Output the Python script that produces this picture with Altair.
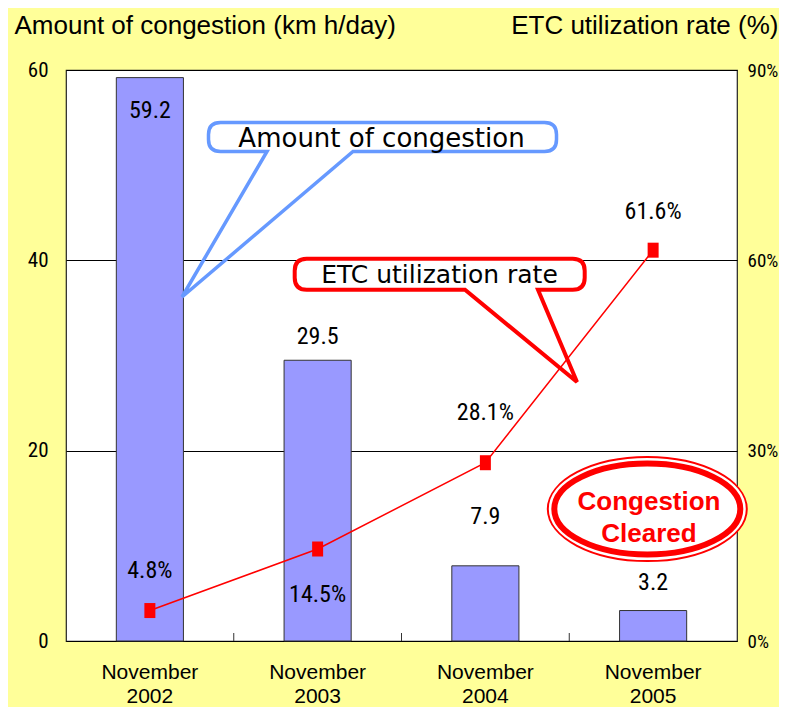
import altair as alt
import pandas as pd

# ---------------- data ----------------
periods = ["November 2002", "November 2003", "November 2004", "November 2005"]
congestion = [59.2, 29.5, 7.9, 3.2]          # km h/day (left axis)
etc_rate = [4.8, 14.5, 28.1, 61.6]           # % (right axis)
congestion_labels = ["59.2", "29.5", "7.9", "3.2"]
etc_labels = ["4.8%", "14.5%", "28.1%", "61.6%"]
left_ticks = [0, 20, 40, 60]
right_ticks = [0, 30, 60, 90]

# ---------------- layout / style ----------------
W, H = 671, 571
LEFT_MAX, RIGHT_MAX = 60, 90
bar_label_dy = [33, -23, -49, -27.5]      # pixel offsets of value labels
etc_label_dy = [-39.5, 46, -50, -38]
NARROW = "Roboto Condensed, Liberation Sans, Arial, sans-serif"
SANS = "Liberation Sans, Arial, sans-serif"
BUBBLE = "DejaVu Sans, Liberation Sans"
BLUE = "#6699FF"
RED = "#FF0000"

df = pd.DataFrame({
    "period": periods,
    "congestion": congestion,
    "etc": etc_rate,
    "clab": congestion_labels,
    "elab": etc_labels,
    "cdy": bar_label_dy,
    "edy": etc_label_dy,
})

base = alt.Chart(df)

x_enc = alt.X(
    "period:N", sort=periods,
    scale=alt.Scale(paddingInner=0.6, paddingOuter=0.3),
    axis=alt.Axis(title=None, labelExpr="split(datum.label, ' ')", labelAngle=0,
                  domain=False, ticks=False, labelFont=SANS, labelFontSize=21,
                  labelColor="black", labelPadding=20, labelLineHeight=24,
                  labelBaseline="top"),
)

left_scale = alt.Scale(domain=[0, LEFT_MAX], nice=False)
right_scale = alt.Scale(domain=[0, RIGHT_MAX], nice=False)

left_axis = alt.Axis(values=left_ticks, title="Amount of congestion (km h/day)",
                     titleAngle=0, titleX=-52, titleY=-37, titleAlign="left",
                     titleBaseline="alphabetic", titleFont=SANS, titleFontSize=26,
                     titleFontWeight="normal", titleColor="black",
                     grid=True, gridColor="black", gridWidth=1, gridOpacity=1,
                     domain=False, ticks=False, labelFont=NARROW, labelFontSize=21,
                     labelPadding=18, labelColor="black")
right_axis = alt.Axis(orient="right", values=right_ticks, labelExpr="datum.value + '%'",
                      title="ETC utilization rate (%)", titleAngle=0, titleX=41, titleY=-37,
                      titleAlign="right", titleBaseline="alphabetic", titleFont=SANS,
                      titleFontSize=26, titleFontWeight="normal", titleColor="black",
                      grid=False, domain=False, ticks=False, labelFont=NARROW,
                      labelFontSize=19, labelPadding=10, labelColor="black")

y_left = alt.Y("congestion:Q", scale=left_scale, axis=left_axis)
y_right = alt.Y("etc:Q", scale=right_scale, axis=right_axis)

# ---------------- bar group ----------------
bars = base.mark_bar(color="#9999FF", stroke="#333333", strokeWidth=1).encode(x=x_enc, y=y_left)

bar_text = base.transform_calculate(
    ly=f"datum.congestion - datum.cdy * {LEFT_MAX} / {H}"
).mark_text(font=NARROW, fontSize=24, color="black", baseline="middle").encode(
    x=x_enc, y=alt.Y("ly:Q", scale=left_scale, axis=left_axis), text="clab:N"
)

ticks_inner = base.transform_filter(
    alt.FieldOneOfPredicate(field="period", oneOf=periods[:3])
).mark_rule(color="#333333", strokeWidth=1, xOffset=W / 8).encode(
    x=x_enc, y=alt.value(H - 8), y2=alt.value(H)
)

bar_group = alt.layer(bars, bar_text, ticks_inner)

# ---------------- line group ----------------
rect_marker = "M -5.5 -7.5 H 5.5 V 7.5 H -5.5 Z"
line = base.mark_line(color=RED, strokeWidth=1.5).encode(x=x_enc, y=y_right)
pts = base.mark_point(shape=rect_marker, size=4, filled=True, color=RED, opacity=1,
                      strokeWidth=0).encode(x=x_enc, y=y_right)
line_text = base.transform_calculate(
    ly=f"datum.etc - datum.edy * {RIGHT_MAX} / {H}"
).mark_text(font=NARROW, fontSize=24, color="black", baseline="middle").encode(
    x=x_enc, y=alt.Y("ly:Q", scale=right_scale, axis=right_axis), text="elab:N"
)
line_group = alt.layer(line, pts, line_text)

# ---------------- annotations ----------------
one = alt.Chart(pd.DataFrame({"a": [0]}))

blue_bubble_path = (
    "M -162 -14.5 L 162 -14.5 Q 174 -14.5 174 -2.5 L 174 2.5 Q 174 14.5 162 14.5 "
    "L -29.5 14.5 L -200.5 160 L -115.5 14.5 L -162 14.5 Q -174 14.5 -174 2.5 "
    "L -174 -2.5 Q -174 -14.5 -162 -14.5 Z"
)
red_bubble_path = (
    "M -133 -15.5 L 133 -15.5 Q 145 -15.5 145 -3.5 L 145 3.5 Q 145 15.5 133 15.5 "
    "L 98.3 15.5 L 137.3 107.8 L 25.3 15.5 L -133 15.5 Q -145 15.5 -145 3.5 "
    "L -145 -3.5 Q -145 -15.5 -133 -15.5 Z"
)
ell_outer = "M -99.5 0 A 99.5 52 0 1 0 99.5 0 A 99.5 52 0 1 0 -99.5 0 Z"
ell_inner = "M -93 0 A 93 45.5 0 1 0 93 0 A 93 45.5 0 1 0 -93 0 Z"

blue_bubble = one.mark_point(shape=blue_bubble_path, size=4, filled=False, stroke=BLUE,
                             fill="transparent", strokeWidth=3.5, opacity=1).encode(
    x=alt.value(382.5 - 66), y=alt.value(137 - 70))
red_bubble = one.mark_point(shape=red_bubble_path, size=4, filled=True, fill="white",
                            stroke=RED, strokeWidth=4, opacity=1, fillOpacity=1,
                            strokeOpacity=1).encode(
    x=alt.value(439.7 - 66), y=alt.value(274.2 - 70))
ellipse_outer = one.mark_point(shape=ell_outer, size=4, filled=True, fill="white",
                               stroke=RED, strokeWidth=2, opacity=1, fillOpacity=1,
                               strokeOpacity=1).encode(
    x=alt.value(647.3 - 66), y=alt.value(509 - 70))
ellipse_inner = one.mark_point(shape=ell_inner, size=4, filled=True, fill="white",
                               stroke=RED, strokeWidth=6, opacity=1, fillOpacity=1,
                               strokeOpacity=1).encode(
    x=alt.value(647.3 - 66), y=alt.value(509 - 70))

blue_text = one.mark_text(text="Amount of congestion", font=BUBBLE, fontSize=26,
                          color="black", align="center", baseline="alphabetic").encode(
    x=alt.value(381.5 - 66), y=alt.value(147 - 70))
red_text = one.mark_text(text="ETC utilization rate", font=BUBBLE, fontSize=25,
                         color="black", align="center", baseline="alphabetic").encode(
    x=alt.value(439.5 - 66), y=alt.value(283.3 - 70))
cleared_text = one.mark_text(text=["Congestion", "Cleared"], font=SANS, fontSize=26,
                             fontWeight="bold", color=RED, align="center",
                             baseline="alphabetic", lineHeight=31.7).encode(
    x=alt.value(649 - 66), y=alt.value(510 - 70))

chart = alt.layer(
    bar_group, blue_bubble, red_bubble, ellipse_outer, ellipse_inner,
    line_group, blue_text, red_text, cleared_text,
).resolve_scale(y="independent").properties(
    width=W, height=H, background="#FFFF99",
    autosize=alt.AutoSizeParams(type="none"),
    padding={"left": 58, "top": 62, "right": 42, "bottom": 66},
).configure_view(stroke="#222222", strokeWidth=1.2, fill="white")

chart.save("out.html", embed_options={"renderer": "svg", "actions": False})
